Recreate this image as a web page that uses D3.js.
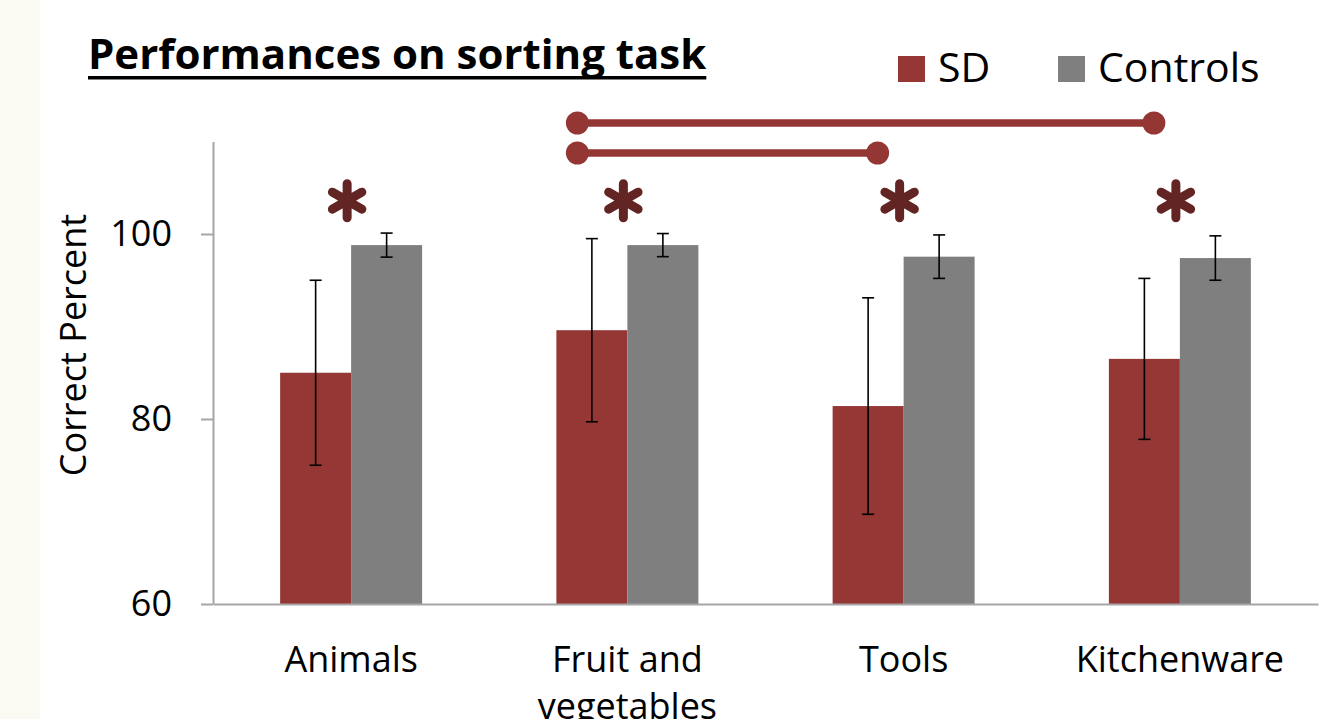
<!DOCTYPE html>
<html>
<head>
<meta charset="utf-8">
<script src="https://cdn.jsdelivr.net/npm/d3@7"></script>
<style>
  html, body { margin: 0; padding: 0; background: #ffffff; }
  svg { display: block; }
</style>
</head>
<body>
<div id="chart"></div>
<script>
// Values
const categories = ['Animals', 'Fruit and vegetables', 'Tools', 'Kitchenware'];
const tickLabels = [['Animals'], ['Fruit and', 'vegetables'], ['Tools'], ['Kitchenware']];
const groups = ['SD', 'Controls'];
const sdMeans = [85.0, 89.6, 81.4, 86.5];
const sdErrors = [10.0, 9.9, 11.7, 8.7];
const controlMeans = [98.8, 98.8, 97.55, 97.4];
const controlErrors = [1.3, 1.25, 2.35, 2.4];
const yTicks = [60, 80, 100];
const significant = ['Animals', 'Fruit and vegetables', 'Tools', 'Kitchenware'];
const comparisons = [
  ['Fruit and vegetables', 'Kitchenware'],
  ['Fruit and vegetables', 'Tools']
];

const colors = { SD: '#953735', Controls: '#7f7f7f' };
const W = 1337, H = 719;
const font = '"Open Sans", "DejaVu Sans", sans-serif';

const svg = d3.select('#chart').append('svg')
  .attr('width', W)
  .attr('height', H);

// off-white strip on the left edge
svg.append('rect')
  .attr('x', 0).attr('y', 0)
  .attr('width', 40).attr('height', H)
  .attr('fill', '#fafaf3');

const x0 = d3.scaleBand()
  .domain(categories)
  .range([213, 1318])
  .paddingInner(0.486)
  .paddingOuter(0.243);

const x1 = d3.scaleBand()
  .domain(groups)
  .range([0, x0.bandwidth()]);

const y = d3.scaleLinear()
  .domain([60, 110])
  .range([604, 141.5]);

const rows = categories.map((c, i) => ({
  category: c,
  values: [
    { group: 'SD', mean: sdMeans[i], err: sdErrors[i] },
    { group: 'Controls', mean: controlMeans[i], err: controlErrors[i] }
  ]
}));

// Bars
const g = svg.append('g');
const groupSel = g.selectAll('.grp')
  .data(rows)
  .join('g')
  .attr('class', 'grp')
  .attr('transform', d => `translate(${x0(d.category)},0)`);

groupSel.selectAll('rect')
  .data(d => d.values)
  .join('rect')
  .attr('x', d => x1(d.group))
  .attr('y', d => y(d.mean))
  .attr('width', x1.bandwidth())
  .attr('height', d => y(60) - y(d.mean))
  .attr('fill', d => colors[d.group]);

// Error bars
const cap = 6;
const eb = groupSel.selectAll('.err')
  .data(d => d.values)
  .join('g')
  .attr('class', 'err')
  .attr('transform', d => `translate(${x1(d.group) + x1.bandwidth() / 2},0)`);
eb.append('line')
  .attr('y1', d => y(d.mean + d.err))
  .attr('y2', d => y(d.mean - d.err));
eb.append('line')
  .attr('x1', -cap).attr('x2', cap)
  .attr('y1', d => y(d.mean + d.err)).attr('y2', d => y(d.mean + d.err));
eb.append('line')
  .attr('x1', -cap).attr('x2', cap)
  .attr('y1', d => y(d.mean - d.err)).attr('y2', d => y(d.mean - d.err));
eb.selectAll('line').attr('stroke', '#000').attr('stroke-width', 1.6);

// Y axis
const yAxis = svg.append('g')
  .attr('transform', 'translate(213,0)')
  .call(d3.axisLeft(y).tickValues(yTicks).tickSizeInner(12).tickSizeOuter(0).tickPadding(29));
yAxis.select('.domain').attr('stroke', '#a6a6a6').attr('stroke-width', 2);
yAxis.selectAll('.tick line').attr('stroke', '#a6a6a6').attr('stroke-width', 2);
yAxis.selectAll('.tick text')
  .attr('font-family', font)
  .attr('font-size', 36)
  .attr('fill', '#000');

// X axis
const xAxis = svg.append('g')
  .attr('transform', 'translate(0,604)')
  .call(d3.axisBottom(x0).tickSize(0).tickSizeOuter(0));
xAxis.select('.domain').attr('stroke', '#a6a6a6').attr('stroke-width', 2);
xAxis.selectAll('.tick text').remove();
xAxis.selectAll('.tick').each(function(d) {
  const lines = tickLabels[categories.indexOf(d)];
  const t = d3.select(this).append('text')
    .attr('text-anchor', 'middle')
    .attr('font-family', font)
    .attr('font-size', 36)
    .attr('fill', '#000')
    .attr('y', 68);
  lines.forEach((ln, k) => {
    t.append('tspan').attr('x', 0).attr('dy', k === 0 ? 0 : 47).text(ln);
  });
});

// Y axis title
svg.append('text')
  .attr('transform', `translate(86,${y(88)}) rotate(-90)`)
  .attr('text-anchor', 'middle')
  .attr('font-family', font)
  .attr('font-size', 36)
  .attr('fill', '#000')
  .text('Correct Percent');

// Significance asterisks
const star = d3.symbol().type(d3.symbolAsterisk).size(820);
svg.selectAll('.star')
  .data(significant)
  .join('path')
  .attr('class', 'star')
  .attr('d', star)
  .attr('transform', d => `translate(${x0(d) + x0.bandwidth() / 2 - 4},${y(103.6)})`)
  .attr('fill', 'none')
  .attr('stroke', '#632523')
  .attr('stroke-width', 9)
  .attr('stroke-linecap', 'round');

// Comparison brackets
const cmp = svg.selectAll('.cmp')
  .data(comparisons)
  .join('g')
  .attr('class', 'cmp')
  .attr('transform', (d, i) => `translate(0,${y(112) + i * 30})`);
const xa = d => x0(d[0]) + x0.bandwidth() / 2 - 50;
const xb = d => x0(d[1]) + x0.bandwidth() / 2 - 26;
cmp.append('line')
  .attr('x1', xa).attr('x2', xb)
  .attr('stroke', '#943634')
  .attr('stroke-width', 7.5);
cmp.append('circle').attr('cx', xa).attr('r', 11.5).attr('fill', '#943634');
cmp.append('circle').attr('cx', xb).attr('r', 11.5).attr('fill', '#943634');

// Title
const title = svg.append('text')
  .attr('x', 88)
  .attr('y', 69)
  .attr('font-family', font)
  .attr('font-weight', 'bold')
  .attr('font-size', 42)
  .attr('fill', '#000')
  .text('Performances on sorting task');
const tw = title.node().getComputedTextLength();
svg.append('rect')
  .attr('x', 88).attr('y', 76)
  .attr('width', tw).attr('height', 3.5)
  .attr('fill', '#000');

// Legend
const legend = svg.append('g');
const legendX = [898, 1058];
groups.forEach((grp, i) => {
  legend.append('rect')
    .attr('x', legendX[i]).attr('y', 56)
    .attr('width', 27).attr('height', 26)
    .attr('fill', colors[grp]);
  legend.append('text')
    .attr('x', legendX[i] + 40).attr('y', 82)
    .attr('font-family', font)
    .attr('font-size', 41)
    .attr('fill', '#000')
    .text(grp);
});
</script>
</body>
</html>
